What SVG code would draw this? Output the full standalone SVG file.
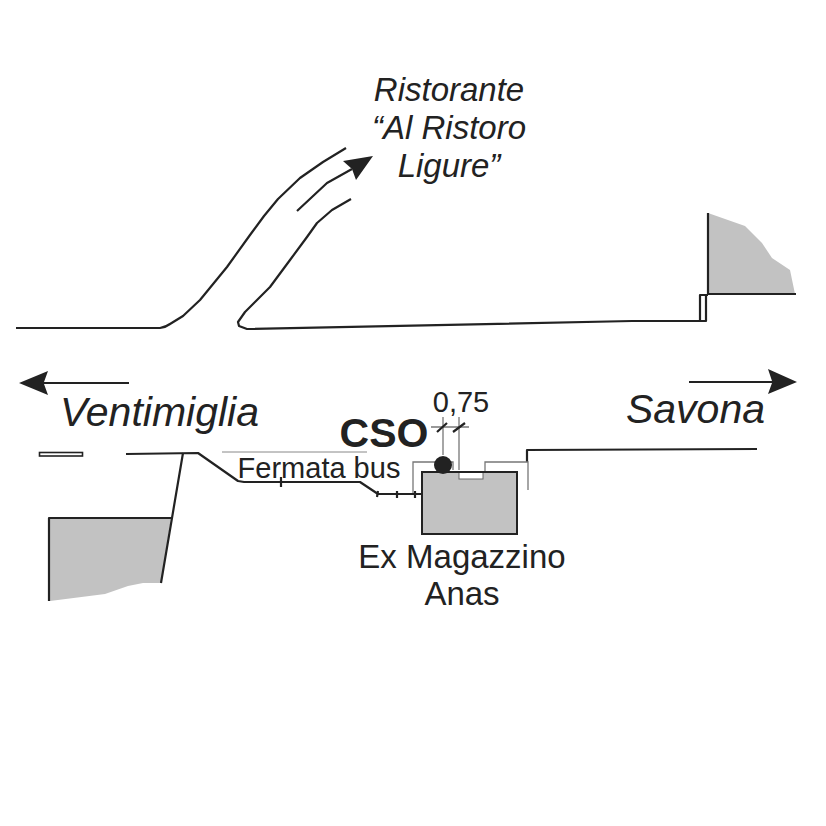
<svg xmlns="http://www.w3.org/2000/svg" width="826" height="826" viewBox="0 0 826 826">
<style>
.l{fill:none;stroke:#222;stroke-width:2.2;stroke-linejoin:round}
.g{fill:none;stroke:#777;stroke-width:1.3}
.f{fill:#c2c2c2;stroke:none}
.t{font-family:"Liberation Sans",Arial,sans-serif;fill:#222;text-anchor:middle}
.i{font-style:italic}
</style>
<rect width="826" height="826" fill="#fff"/>
<g id="connectors">
<path class="l" d="M16 328H160Q166 327 170 324L183 316 200 300 227 267 250 235 264 216 278 199 300 178 323 162 346 148"/>
<path class="l" d="M297 211L327 183 352 169"/>
<path fill="#222" d="M343 161L373 156 356 180 352 169Z"/>
<path class="l" d="M351 199L332 210 317 223 307 237 290 260 270 287 245 312 238 322 239 326 247 329 632 321 706 321"/>
<path class="l" d="M126 454L198 453 238 481 244 482H360L378 494H421"/>
<path class="l" d="M281 477V487M378 491L377 497M397 491V498M415 491V498"/>
<path class="l" d="M527 462V450L757 449"/>
<path d="M222 452H367" stroke="#888" stroke-width="1" fill="none"/>
<path class="g" d="M413 493V462H453V470M443 417V455M459 417V470M485 472V462H528V490"/>
<path class="g" d="M431 427H469"/>
<path class="l" d="M437 432L447 423M453 432L465 423"/>
<path fill="#222" d="M19 383L48 371 44 382H129V384H44L48 395Z"/>
<path fill="#222" d="M797 382L768 369 772 381H689V383H772L768 394Z"/>
</g>
<g id="cliff-top-right">
<path class="f" d="M708 213L745 226 762 243 772 258 790 270 795 294H708Z"/>
<path class="l" d="M708 213V294H796M708 295H700V321H706V295"/>
</g>
<g id="cliff-bottom-left">
<path class="f" d="M49 518H171L161 583 143 583 128 586 105 594 50 601Z"/>
<path class="l" d="M183 453L161 583M49 601V518H171"/>
</g>
<g id="bar"><rect x="39.500" y="452.500" width="43" height="3.500" fill="#fff" stroke="#222" stroke-width="1.600"/></g>
<g id="ex-magazzino">
<rect x="422" y="472" width="95" height="62" fill="#c2c2c2" stroke="#222" stroke-width="2"/>
<rect x="459" y="472" width="24" height="7" fill="#fff" stroke="#666" stroke-width="1"/>
<path stroke="#222" stroke-width="2" d="M422 472H517" fill="none"/>
<text class="t" x="462" y="568" font-size="33">Ex Magazzino</text>
<text class="t" x="462" y="605" font-size="33">Anas</text>
</g>
<g id="cso">
<circle cx="443" cy="465" r="9" fill="#222"/>
<text class="t" x="384" y="447" font-size="41" font-weight="bold">CSO</text>
</g>
<g id="labels">
<text class="t i" x="449" y="101" font-size="33">Ristorante</text>
<text class="t i" x="449" y="139" font-size="33">“Al Ristoro</text>
<text class="t i" x="449" y="177" font-size="33">Ligure”</text>
<text class="t i" x="159.500" y="426" font-size="41">Ventimiglia</text>
<text class="t i" x="695.500" y="423" font-size="41">Savona</text>
<text class="t" x="319" y="478" font-size="29">Fermata bus</text>
<text class="t" x="461" y="412" font-size="29">0,75</text>
</g>
</svg>
